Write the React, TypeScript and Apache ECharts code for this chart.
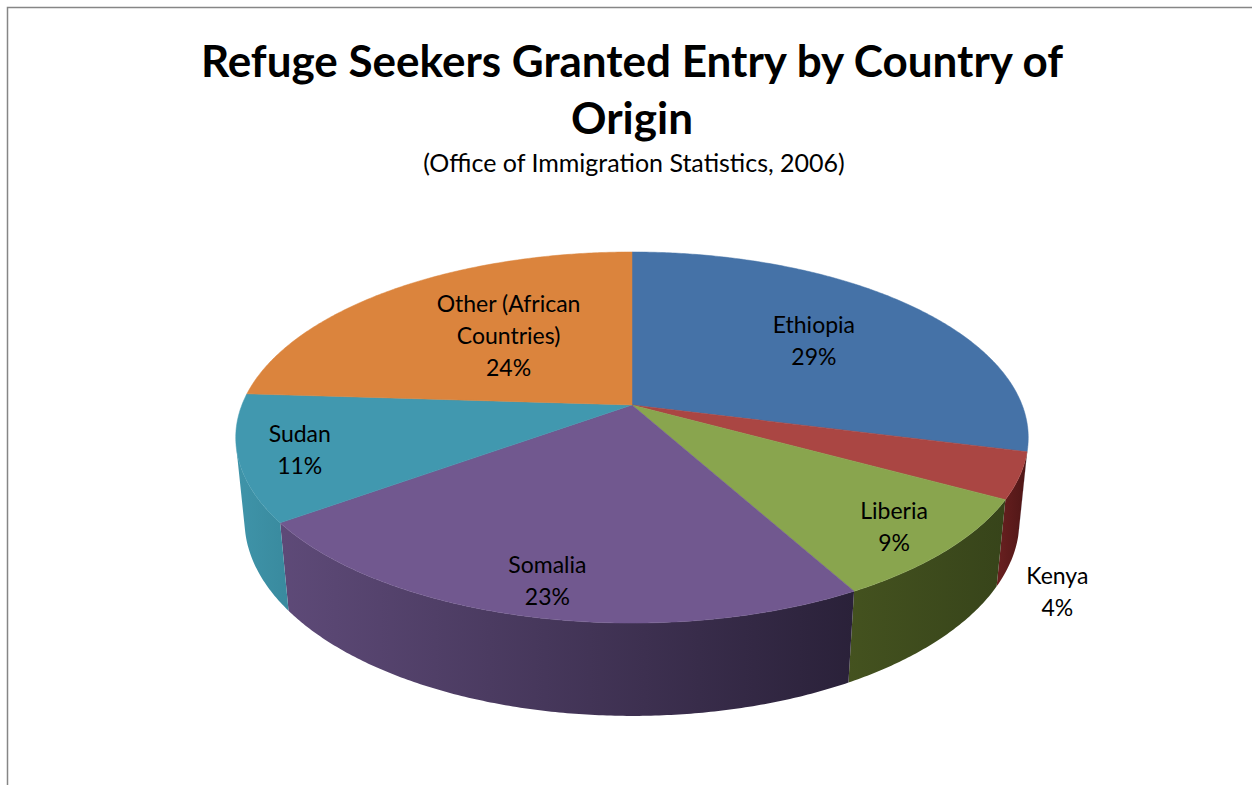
import React, { useEffect, useRef } from "react";
import * as echarts from "echarts";

// ---- data ----
const categories = ["Ethiopia", "Kenya", "Liberia", "Somalia", "Sudan", "Other (African Countries)"];
const labelNames = ["Ethiopia", "Kenya", "Liberia", "Somalia", "Sudan", "Other (African\nCountries)"];
const values = [29, 4, 9, 23, 11, 24];
const titleLines = ["Refuge Seekers Granted Entry by Country of", "Origin"];
const subtitle = "(Office of Immigration Statistics, 2006)";

// ---- styles / layout ----
const topColors = ["#4572A7", "#AA4643", "#89A54E", "#71588F", "#4198AF", "#DB843D"];
const wallColors: [string, string][] = [
  ["#3a5f8c", "#2c4a6e"],
  ["#6a2020", "#4e1616"],
  ["#44521f", "#37441a"],
  ["#5e4a78", "#2a2139"],
  ["#3f94a9", "#398a9e"],
  ["#b86e33", "#9a5c2a"],
];
const labelR = [0.63, 1.12, 0.85, 0.85, 0.85, 0.49];
const labelY = [0, -0.3, 0, 0, 0, 0.03];

// projection parameters (perspective view of a cylinder)
const D = 5.06, C = 0.887, S = 0.461, F = 1974, CX = 632, CY = 405, H = 0.241;
function proj(r: number, t: number, y: number): [number, number] {
  const x = r * Math.cos(t), z = r * Math.sin(t);
  const up = y * C - z * S;
  const depth = D - (y * S + z * C);
  return [CX + (F * x) / depth, CY - (F * up) / depth];
}

export default function App() {
  const ref = useRef<HTMLDivElement>(null);
  useEffect(() => {
    document.body.style.margin = "0";
    const chart = echarts.init(ref.current!, null, { renderer: "svg" });
    const total = values.reduce((a, b) => a + b, 0);
    const starts: number[] = [];
    let acc = 0;
    values.forEach((v) => { starts.push(acc); acc += v; });
    const ang = (frac: number) => -Math.PI / 2 + frac * 2 * Math.PI;
    const vis0 = Math.asin(1 / (D * C));
    const vis1 = Math.PI - vis0;
    const STEP = Math.PI / 360;

    const renderItem = (params: any) => {
      const i = params.dataIndex;
      const a0 = ang(starts[i] / total);
      const a1 = ang((starts[i] + values[i]) / total);
      const children: any[] = [];
      // walls
      const w0 = Math.max(a0, vis0), w1 = Math.min(a1, vis1);
      if (w1 > w0) {
        const pts: number[][] = [];
        const n = Math.max(2, Math.ceil((w1 - w0) / STEP));
        for (let k = 0; k <= n; k++) pts.push(proj(1, w0 + ((w1 - w0) * k) / n, 0));
        for (let k = n; k >= 0; k--) pts.push(proj(1, w0 + ((w1 - w0) * k) / n, -H));
        children.push({
          type: "polygon",
          z2: 1,
          shape: { points: pts },
          style: {
            fill: new echarts.graphic.LinearGradient(0, 0, 1, 0, [
              { offset: 0, color: wallColors[i][0] },
              { offset: 1, color: wallColors[i][1] },
            ]),
            stroke: null,
          },
        });
      }
      // top face
      const tp: number[][] = [proj(0, 0, 0)];
      const n = Math.max(2, Math.ceil((a1 - a0) / STEP));
      for (let k = 0; k <= n; k++) tp.push(proj(1, a0 + ((a1 - a0) * k) / n, 0));
      children.push({
        type: "polygon",
        z2: 5,
        shape: { points: tp },
        style: { fill: topColors[i], stroke: topColors[i], lineWidth: 0.5 },
      });
      // label
      const mid = (a0 + a1) / 2;
      const [lx, ly] = proj(labelR[i], mid, labelY[i]);
      children.push({
        type: "text",
        z2: 20,
        x: lx,
        y: ly,
        style: {
          text: labelNames[i] + "\n" + Math.round((values[i] / total) * 100) + "%",
          fill: "#000",
          fontFamily: "Lato",
          fontSize: 23,
          lineHeight: 32,
          align: "center",
          verticalAlign: "middle",
        },
      });
      return { type: "group", children };
    };

    chart.setOption({
      animation: false,
      graphic: [
        {
          type: "rect",
          shape: { x: 7.5, y: 7.5, width: 1300, height: 900 },
          style: { fill: "none", stroke: "#868686", lineWidth: 1.5 },
          silent: true,
        },
        {
          type: "text",
          x: 632,
          y: 60,
          style: {
            text: titleLines[0],
            fontFamily: "Lato",
            fontWeight: "bold",
            fontSize: 44,
            fill: "#000",
            align: "center",
            verticalAlign: "middle",
          },
        },
        {
          type: "text",
          x: 632,
          y: 117,
          style: {
            text: titleLines[1],
            fontFamily: "Lato",
            fontWeight: "bold",
            fontSize: 44,
            fill: "#000",
            align: "center",
            verticalAlign: "middle",
          },
        },
        {
          type: "text",
          x: 634,
          y: 162,
          style: {
            text: subtitle,
            fontFamily: "Lato",
            fontSize: 25,
            fill: "#000",
            align: "center",
            verticalAlign: "middle",
          },
        },
      ],
      series: [
        {
          type: "custom",
          coordinateSystem: "none",
          renderItem,
          data: categories.map((c, i) => ({ name: c, value: [i, values[i]] })),
        },
      ],
    });
    return () => chart.dispose();
  }, []);
  return <div ref={ref} style={{ width: 1252, height: 785 }} />;
}
